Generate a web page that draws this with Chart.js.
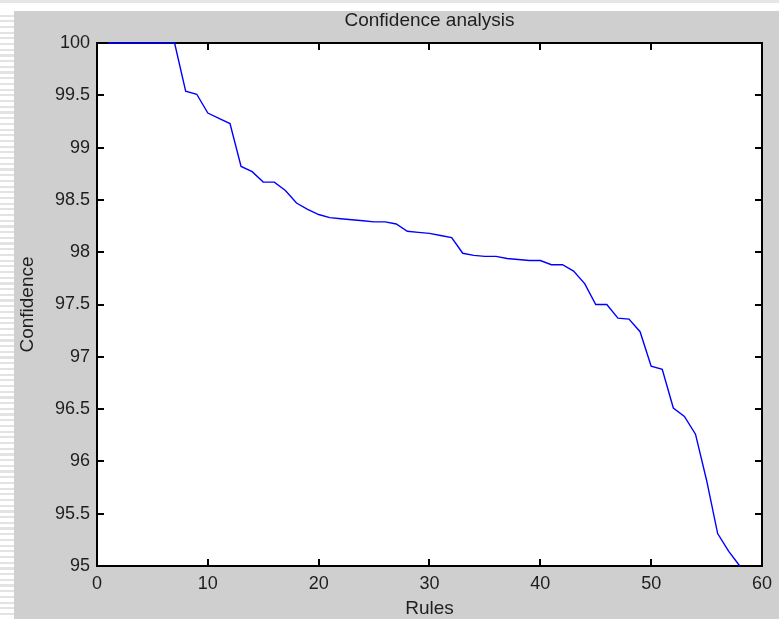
<!DOCTYPE html>
<html>
<head>
<meta charset="utf-8">
<script src="https://cdn.jsdelivr.net/npm/chart.js@4.4.1/dist/chart.umd.min.js"></script>
<style>
  html, body { margin: 0; padding: 0; width: 779px; height: 619px; overflow: hidden; background: #ffffff; }
  #topline { position: absolute; left: 0; top: 0; width: 779px; height: 3px; background: #e6e6e6; }
  #stripes { position: absolute; left: 0; top: 11px; width: 14px; height: 608px;
    background: repeating-linear-gradient(to bottom, #ffffff 0px, #ffffff 3.5px, #e3e3e3 3.5px, #e3e3e3 5.7px); }
  #panel { position: absolute; left: 14px; top: 11px; width: 765px; height: 608px; background: #cfcfcf; }
  canvas { display: block; }
</style>
</head>
<body>
<div id="topline"></div>
<div id="stripes"></div>
<div id="panel"><canvas id="c" width="765" height="608"></canvas></div>
<script>
// ---- data ----
const rules = [1,2,3,4,5,6,7,8,9,10,11,12,13,14,15,16,17,18,19,20,21,22,23,24,25,26,27,28,29,30,
               31,32,33,34,35,36,37,38,39,40,41,42,43,44,45,46,47,48,49,50,51,52,53,54,55,56,57,58];
const confidence = [100,100,100,100,100,100,100,99.54,99.51,99.33,99.28,99.23,98.82,98.77,98.67,98.67,
                    98.59,98.47,98.41,98.36,98.33,98.32,98.31,98.30,98.29,98.29,98.27,98.20,98.19,98.18,
                    98.16,98.14,97.99,97.97,97.96,97.96,97.94,97.93,97.92,97.92,97.88,97.88,97.82,97.70,
                    97.50,97.50,97.37,97.36,97.24,96.91,96.88,96.51,96.43,96.26,95.82,95.31,95.14,95.00];
const xTicks = [0,10,20,30,40,50,60];
const yTicks = [95,95.5,96,96.5,97,97.5,98,98.5,99,99.5,100];
const titleText = 'Confidence analysis';
const xLabel = 'Rules';
const yLabel = 'Confidence';

const points = rules.map((r, i) => ({x: r, y: confidence[i]}));
const FONT = "'Liberation Sans', Arial, sans-serif";
const TXT = '#1e1e1e';

const boxTicks = {
  id: 'boxTicks',
  beforeDatasetsDraw(chart) {
    const {ctx, chartArea: a} = chart;
    const x = chart.scales.x, y = chart.scales.y;
    const L = 7;
    ctx.save();
    ctx.strokeStyle = '#000000';
    ctx.lineWidth = 2;
    ctx.lineCap = 'butt';
    const l = Math.round(a.left), r = Math.round(a.right);
    const t = Math.round(a.top), b = Math.round(a.bottom);
    ctx.beginPath();
    ctx.rect(l, t, r - l, b - t);
    ctx.stroke();
    ctx.beginPath();
    for (const v of xTicks) {
      const px = Math.round(x.getPixelForValue(v));
      ctx.moveTo(px, b); ctx.lineTo(px, b - L);
      ctx.moveTo(px, t); ctx.lineTo(px, t + L);
    }
    for (const v of yTicks) {
      const py = Math.round(y.getPixelForValue(v));
      ctx.moveTo(l, py); ctx.lineTo(l + L, py);
      ctx.moveTo(r, py); ctx.lineTo(r - L, py);
    }
    ctx.stroke();
    ctx.restore();
  }
};

const plotBg = {
  id: 'plotBg',
  beforeDraw(chart) {
    const {ctx, chartArea: a} = chart;
    ctx.save();
    ctx.fillStyle = '#ffffff';
    ctx.fillRect(a.left, a.top, a.right - a.left, a.bottom - a.top);
    ctx.restore();
  }
};

new Chart(document.getElementById('c'), {
  type: 'line',
  data: {
    datasets: [{
      data: points,
      borderColor: '#0000ff',
      borderWidth: 1.4,
      pointRadius: 0,
      tension: 0,
      fill: false,
      clip: 2
    }]
  },
  options: {
    responsive: false,
    animation: false,
    devicePixelRatio: 1,
    layout: { padding: { left: 0, right: 17, top: 0, bottom: 0 } },
    plugins: {
      legend: { display: false },
      tooltip: { enabled: false },
      title: {
        display: true,
        text: titleText,
        fullSize: false,
        color: TXT,
        font: { family: FONT, size: 19, weight: 'normal', lineHeight: 1 },
        padding: { top: 0, bottom: 13 }
      }
    },
    scales: {
      x: {
        type: 'linear',
        min: 0, max: 60,
        afterBuildTicks: s => { s.ticks = xTicks.map(v => ({value: v})); },
        afterFit: s => { s.height = 53; },
        grid: { display: false, drawTicks: false },
        border: { display: false },
        ticks: { color: TXT, font: { family: FONT, size: 18 }, padding: 7, autoSkip: false, maxRotation: 0,
                 callback: v => String(v) },
        title: { display: true, text: xLabel, color: TXT, font: { family: FONT, size: 19, lineHeight: 1 }, padding: { top: 0, bottom: 1 } }
      },
      y: {
        type: 'linear',
        min: 95, max: 100,
        afterBuildTicks: s => { s.ticks = yTicks.map(v => ({value: v})); },
        afterFit: s => { s.width = 83; },
        grid: { display: false, drawTicks: false },
        border: { display: false },
        ticks: { color: TXT, font: { family: FONT, size: 18 }, padding: 7, autoSkip: false,
                 callback: v => String(v) },
        title: { display: true, text: yLabel, color: TXT, font: { family: FONT, size: 19, lineHeight: 1 }, padding: { top: 4.5, bottom: 0 } }
      }
    }
  },
  plugins: [plotBg, boxTicks]
});
</script>
</body>
</html>
